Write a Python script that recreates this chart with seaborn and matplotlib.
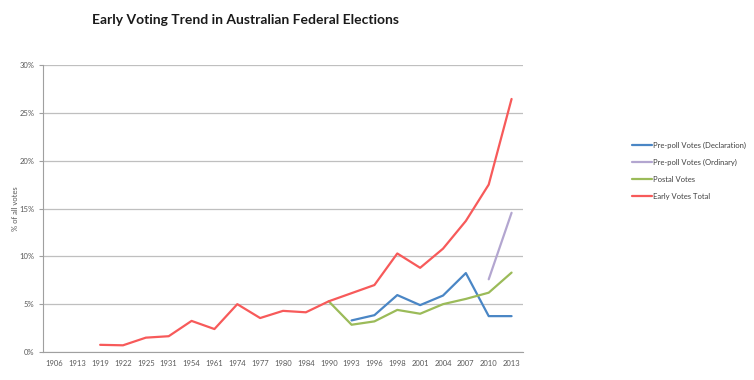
import pandas as pd
import numpy as np
import matplotlib
matplotlib.use("Agg")
import matplotlib.pyplot as plt
import seaborn as sns
from matplotlib.ticker import FixedLocator, PercentFormatter

# Election years on the category axis
years = ["1906", "1913", "1919", "1922", "1925", "1931", "1954", "1961", "1974",
         "1977", "1980", "1984", "1990", "1993", "1996", "1998", "2001", "2004",
         "2007", "2010", "2013"]

# Series values (% of all votes)
total_years = ["1919", "1922", "1925", "1931", "1954", "1961", "1974", "1977", "1980",
               "1984", "1990", "1993", "1996", "1998", "2001", "2004", "2007", "2010", "2013"]
total_vals = [0.75, 0.7, 1.5, 1.65, 3.25, 2.4, 5.0, 3.55, 4.3,
              4.15, 5.3, 6.15, 7.0, 10.3, 8.8, 10.8, 13.7, 17.5, 26.45]

postal_years = ["1990", "1993", "1996", "1998", "2001", "2004", "2007", "2010", "2013"]
postal_vals = [5.3, 2.85, 3.2, 4.4, 4.0, 5.0, 5.55, 6.2, 8.3]

decl_years = ["1993", "1996", "1998", "2001", "2004", "2007", "2010", "2013"]
decl_vals = [3.3, 3.85, 5.95, 4.9, 5.9, 8.25, 3.75, 3.75]

ord_years = ["2010", "2013"]
ord_vals = [7.6, 14.55]

series = ["Pre-poll Votes (Declaration)", "Pre-poll Votes (Ordinary)",
          "Postal Votes", "Early Votes Total"]
colors = ["#4a86c5", "#b3a6d0", "#9bbb59", "#f75a5a"]

frames = []
for name, ys, vs in [(series[0], decl_years, decl_vals),
                     (series[1], ord_years, ord_vals),
                     (series[2], postal_years, postal_vals),
                     (series[3], total_years, total_vals)]:
    frames.append(pd.DataFrame({"year": ys, "value": vs, "series": name}))
df = pd.concat(frames, ignore_index=True)
df["pos"] = df["year"].map({y: i for i, y in enumerate(years)})

sns.set_style("white")
plt.rcParams["font.family"] = ["Lato", "DejaVu Sans"]

fig = plt.figure(figsize=(7.54, 3.8), dpi=100)
ax = fig.add_axes([43 / 754, 28 / 380, 480 / 754, 287 / 380])

sns.lineplot(data=df, x="pos", y="value", hue="series", hue_order=series,
             palette=colors, linewidth=1.6, ax=ax, legend=True, sort=False,
             estimator=None)

grey = "#595959"
ax.set_xlim(-0.5, len(years) - 0.5)
ax.set_ylim(0, 30)
ax.set_xticks(range(len(years)))
ax.set_xticklabels(years)
ax.xaxis.set_minor_locator(FixedLocator(np.arange(-0.5, len(years), 1)))
ax.tick_params(axis="x", which="major", length=0, labelsize=5.5, colors=grey, pad=6)
ax.tick_params(axis="x", which="minor", length=3, color="#a0a0a0", width=0.8)
ax.set_yticks(range(0, 31, 5))
ax.yaxis.set_major_formatter(PercentFormatter(decimals=0))
ax.tick_params(axis="y", length=3, color="#a0a0a0", width=0.8, labelsize=5.5,
               colors=grey, pad=3, left=True)
ax.tick_params(axis="y", colors="#a0a0a0", labelcolor=grey)
ax.grid(axis="y", color="#bfbfbf", linewidth=0.9)
ax.set_axisbelow(True)
for side in ["top", "right"]:
    ax.spines[side].set_visible(False)
for side in ["left", "bottom"]:
    ax.spines[side].set_color("#a0a0a0")
    ax.spines[side].set_linewidth(0.8)

ax.set_xlabel("")
ax.set_ylabel("% of all votes", fontsize=5.5, color=grey)
ax.yaxis.set_label_coords(-24 / 480, 0.5)

fig.text(245 / 754, 1 - 20 / 380, "Early Voting Trend in Australian Federal Elections",
         ha="center", va="center", fontsize=10, fontweight="bold", color="#1a1a1a")

handles, labels = ax.get_legend_handles_labels()
ax.legend(handles, labels, loc="center left", bbox_to_anchor=(625 / 754, 209 / 380),
          bbox_transform=fig.transFigure, frameon=False, fontsize=5.5,
          handlelength=2.6, handletextpad=0.2, labelspacing=1.3, labelcolor="#404040")

fig.savefig("out.png", dpi=100)
